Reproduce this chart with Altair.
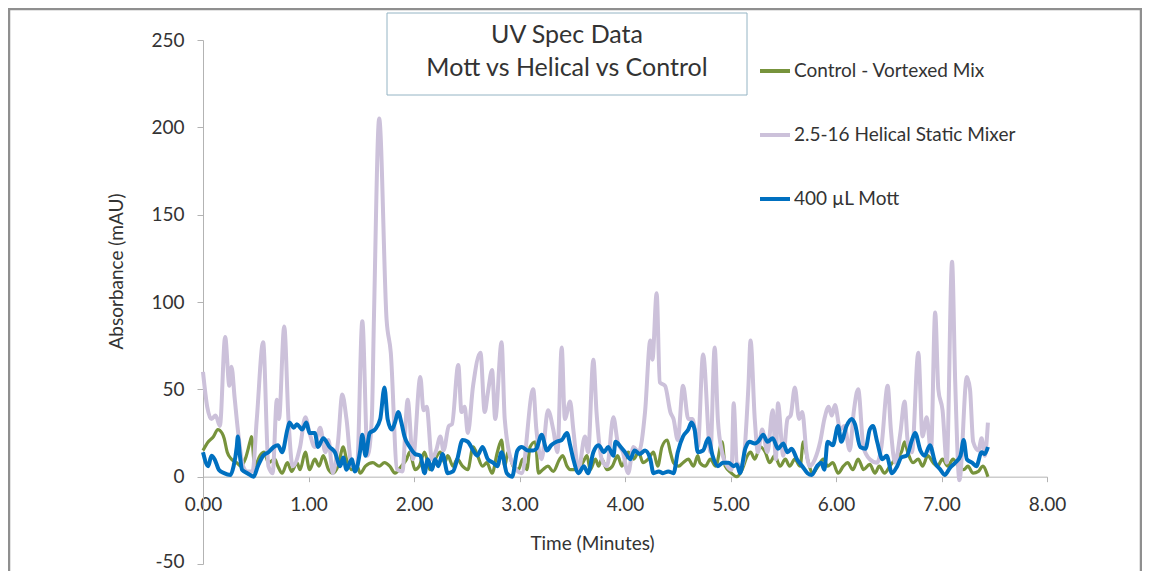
import altair as alt
import pandas as pd

# ---------------- data ----------------
series_names = ["Control - Vortexed Mix", "2.5-16 Helical Static Mixer", "400 µL Mott"]
series_colors = ["#77933c", "#ccc1da", "#0070c0"]
title_lines = ["UV Spec Data", "Mott vs Helical vs Control"]
x_ticks = [0, 1, 2, 3, 4, 5, 6, 7, 8]
y_ticks = [-50, 0, 50, 100, 150, 200, 250]

control_t = [0.00, 0.05, 0.10, 0.14, 0.18, 0.20, 0.23, 0.27, 0.32, 0.36, 0.40, 0.45, 0.46, 0.49,
             0.54, 0.58, 0.62, 0.68, 0.71, 0.75, 0.80, 0.84, 0.89, 0.92, 0.97, 1.01, 1.06, 1.10,
             1.14, 1.19, 1.23, 1.28, 1.33, 1.36, 1.41, 1.46, 1.49, 1.54, 1.61, 1.67, 1.72, 1.77,
             1.82, 1.88, 1.93, 1.96, 2.01, 2.05, 2.10, 2.15, 2.20, 2.25, 2.29, 2.32, 2.37, 2.41,
             2.46, 2.51, 2.56, 2.59, 2.65, 2.69, 2.74, 2.79, 2.83, 2.86, 2.89, 2.94, 2.99, 3.03,
             3.07, 3.10, 3.15, 3.18, 3.22, 3.27, 3.32, 3.38, 3.41, 3.45, 3.48, 3.54, 3.60, 3.64,
             3.67, 3.72, 3.75, 3.78, 3.83, 3.88, 3.93, 3.97, 4.03, 4.08, 4.13, 4.17, 4.22, 4.27,
             4.31, 4.35, 4.40, 4.43, 4.46, 4.51, 4.55, 4.60, 4.65, 4.69, 4.71, 4.76, 4.81, 4.86,
             4.92, 4.95, 5.01, 5.06, 5.11, 5.16, 5.19, 5.23, 5.28, 5.33, 5.37, 5.42, 5.47, 5.52,
             5.56, 5.61, 5.66, 5.69, 5.73, 5.78, 5.83, 5.88, 5.92, 5.97, 6.02, 6.07, 6.11, 6.16,
             6.21, 6.23, 6.26, 6.32, 6.37, 6.41, 6.46, 6.51, 6.56, 6.62, 6.65, 6.68, 6.73, 6.78,
             6.82, 6.87, 6.92, 6.96, 7.01, 7.06, 7.11, 7.16, 7.21, 7.25, 7.30, 7.35, 7.39, 7.44]
control_v = [15, 20, 23, 27, 25, 22, 14, 10, 8, 6, 10, 21, 23, 6,
             12, 14, 8, 10, 6, 2, 8, 3, 8, 4, 14, 4, 10, 6,
             12, 4, 2, 6, 17, 10, 4, 6, 2, 6, 8, 6, 8, 6,
             2, 6, 10, 14, 4, 6, 14, 4, 10, 14, 8, 12, 6, 10,
             6, 4, 17, 14, 6, 8, 2, 14, 21, 6, 14, 6, 4, 10,
             4, 17, 20, 2, 4, 6, 3, 10, 12, 6, 4, 4, 8, 12,
             4, 10, 6, 10, 4, 6, 12, 6, 14, 10, 14, 8, 10, 14,
             6, 17, 21, 14, 8, 6, 8, 10, 6, 12, 8, 6, 10, 6,
             20, 6, 2, 0, 4, 12, 14, 10, 17, 14, 8, 12, 6, 10,
             6, 10, 6, 20, 10, 2, 6, 10, 6, 8, 2, 6, 8, 4,
             10, 8, 4, 7, 2, 6, 2, 6, 10, 14, 20, 14, 8, 10,
             6, 12, 8, 6, 10, 6, 10, 6, 4, 6, 2, 3, 6, 0]

helical_t = [0.00, 0.04, 0.08, 0.12, 0.16, 0.21, 0.25, 0.27, 0.30, 0.33, 0.38, 0.42, 0.47, 0.51,
             0.57, 0.62, 0.66, 0.70, 0.72, 0.77, 0.81, 0.85, 0.92, 0.97, 1.01, 1.06, 1.11, 1.16,
             1.19, 1.23, 1.28, 1.32, 1.36, 1.41, 1.46, 1.51, 1.56, 1.60, 1.62, 1.67, 1.74, 1.78,
             1.84, 1.89, 1.94, 1.99, 2.06, 2.09, 2.12, 2.17, 2.21, 2.25, 2.28, 2.33, 2.36, 2.42,
             2.45, 2.48, 2.51, 2.56, 2.63, 2.67, 2.70, 2.74, 2.77, 2.83, 2.86, 2.93, 3.02, 3.13,
             3.16, 3.21, 3.27, 3.32, 3.36, 3.40, 3.43, 3.48, 3.51, 3.56, 3.62, 3.65, 3.70, 3.73,
             3.78, 3.83, 3.89, 3.93, 3.98, 4.03, 4.08, 4.13, 4.19, 4.24, 4.26, 4.30, 4.33, 4.38,
             4.43, 4.46, 4.50, 4.55, 4.60, 4.64, 4.69, 4.74, 4.81, 4.85, 4.88, 4.92, 4.97, 5.01,
             5.03, 5.06, 5.11, 5.17, 5.19, 5.23, 5.26, 5.30, 5.35, 5.40, 5.43, 5.45, 5.50, 5.54,
             5.57, 5.61, 5.65, 5.68, 5.72, 5.75, 5.80, 5.85, 5.89, 5.93, 5.96, 5.99, 6.04, 6.08,
             6.13, 6.17, 6.21, 6.26, 6.32, 6.39, 6.43, 6.49, 6.52, 6.56, 6.61, 6.65, 6.68, 6.72,
             6.78, 6.82, 6.86, 6.90, 6.94, 6.97, 7.01, 7.05, 7.10, 7.13, 7.17, 7.24, 7.27, 7.30,
             7.35, 7.38, 7.41, 7.44]
helical_v = [60, 40, 33, 35, 29, 80, 52, 63, 45, 27, 6, 3, 3, 33,
             77, 6, 2, 44, 33, 86, 33, 6, 17, 34, 25, 17, 28, 14,
             21, 2, 20, 47, 33, 6, 6, 89, 12, 33, 90, 205, 90, 71,
             4, 3, 44, 10, 57, 38, 40, 10, 15, 23, 15, 29, 30, 64,
             37, 40, 25, 52, 71, 37, 48, 61, 33, 77, 33, 8, 2, 50,
             27, 10, 38, 27, 14, 74, 33, 43, 27, 4, 23, 14, 67, 37,
             10, 6, 34, 20, 14, 2, 17, 14, 37, 78, 67, 105, 54, 52,
             37, 33, 21, 52, 33, 33, 17, 70, 14, 74, 33, 14, 6, 4,
             42, 8, 6, 52, 78, 33, 14, 27, 14, 38, 10, 42, 12, 33,
             35, 51, 33, 37, 14, 6, 10, 20, 33, 40, 35, 41, 27, 29,
             15, 38, 50, 17, 10, 8, 17, 52, 27, 8, 25, 43, 20, 14,
             71, 23, 34, 14, 94, 50, 38, 8, 123, 54, -2, 57, 50, 20,
             15, 22, 12, 31]

mott_t = [0.00, 0.05, 0.08, 0.11, 0.15, 0.20, 0.26, 0.29, 0.32, 0.33, 0.35, 0.37, 0.42, 0.48,
          0.52, 0.57, 0.62, 0.67, 0.71, 0.75, 0.80, 0.82, 0.86, 0.89, 0.94, 0.98, 1.01, 1.06,
          1.09, 1.14, 1.20, 1.25, 1.30, 1.33, 1.36, 1.41, 1.44, 1.49, 1.51, 1.54, 1.58, 1.63,
          1.68, 1.72, 1.75, 1.79, 1.82, 1.85, 1.88, 1.91, 1.96, 2.01, 2.06, 2.10, 2.13, 2.17,
          2.20, 2.23, 2.27, 2.32, 2.37, 2.41, 2.46, 2.51, 2.56, 2.60, 2.65, 2.70, 2.75, 2.79,
          2.83, 2.88, 2.93, 2.98, 3.02, 3.08, 3.13, 3.16, 3.21, 3.26, 3.30, 3.35, 3.40, 3.45,
          3.48, 3.51, 3.56, 3.61, 3.65, 3.70, 3.75, 3.80, 3.84, 3.89, 3.91, 3.96, 4.00, 4.05,
          4.09, 4.14, 4.19, 4.24, 4.27, 4.32, 4.36, 4.41, 4.46, 4.50, 4.55, 4.60, 4.63, 4.66,
          4.69, 4.74, 4.79, 4.83, 4.88, 4.93, 4.98, 5.03, 5.06, 5.09, 5.14, 5.18, 5.23, 5.26,
          5.31, 5.35, 5.40, 5.45, 5.50, 5.54, 5.58, 5.63, 5.68, 5.73, 5.77, 5.82, 5.86, 5.89,
          5.92, 5.97, 6.02, 6.05, 6.10, 6.15, 6.18, 6.23, 6.28, 6.32, 6.35, 6.39, 6.44, 6.48,
          6.53, 6.58, 6.62, 6.67, 6.72, 6.75, 6.80, 6.84, 6.89, 6.94, 6.99, 7.03, 7.08, 7.13,
          7.18, 7.21, 7.24, 7.29, 7.33, 7.38, 7.41, 7.44]
mott_v = [14, 6, 12, 10, 4, 2, 1, 6, 17, 23, 12, 4, 2, 0,
          6, 12, 14, 17, 18, 14, 27, 31, 28, 30, 27, 31, 25, 25,
          17, 22, 17, 14, 6, 11, 4, 10, 3, 15, 24, 12, 25, 27,
          33, 51, 33, 27, 31, 37, 31, 23, 17, 13, 12, 2, 10, 4,
          10, 6, 13, 2, 3, 10, 21, 20, 15, 12, 17, 10, 8, 6,
          14, 2, 0, 15, 17, 15, 15, 16, 24, 15, 18, 20, 21, 25,
          18, 10, 2, 6, 2, 14, 18, 14, 17, 12, 20, 17, 14, 10,
          15, 13, 15, 10, 2, 3, 2, 3, 2, 14, 23, 27, 31, 27,
          14, 15, 22, 12, 6, 8, 8, 6, 7, 2, 16, 20, 19, 20,
          24, 20, 22, 16, 19, 14, 16, 10, 6, 2, 1, 6, 8, 4,
          20, 18, 29, 20, 29, 33, 30, 17, 16, 27, 29, 20, 10, 12,
          2, 6, 11, 12, 21, 25, 15, 12, 18, 8, 4, 1, 5, 8,
          12, 21, 10, 8, 6, 14, 13, 17]

df = pd.concat([
    pd.DataFrame({"t": control_t, "v": control_v, "series": series_names[0]}),
    pd.DataFrame({"t": helical_t, "v": helical_v, "series": series_names[1]}),
    pd.DataFrame({"t": mott_t, "v": mott_v, "series": series_names[2]}),
], ignore_index=True)

# ---------------- layout ----------------
W, H = 844, 524
FONT = "Lato"
TXT = "#333333"
AX = "#b3b3b3"
FS = 19
zero_offset = -(H - H * 250 / 300)

x_enc = alt.X("t:Q", scale=alt.Scale(domain=[0, 8], nice=False, zero=False),
              axis=alt.Axis(values=x_ticks, format=".2f", title="Time (Minutes)",
                            offset=zero_offset, grid=False, domainColor=AX, tickColor=AX,
                            tickSize=5, labelPadding=14, labelFontSize=FS, titleFontSize=FS,
                            labelFont=FONT, titleFont=FONT, labelColor=TXT, titleColor=TXT,
                            labelFlush=False, labelOverlap=False,
                            titleFontWeight="normal", titlePadding=20,
                            titleX=389, titleAlign="center"))
y_enc = alt.Y("v:Q", scale=alt.Scale(domain=[-50, 250], nice=False, zero=False),
              axis=alt.Axis(values=y_ticks, title="Absorbance (mAU)", grid=False,
                            labelExpr="datum.value + ''",
                            labelOffset={"condition": {"test": "datum.value === -50", "value": -3},
                                         "value": 0},
                            domainColor=AX, tickColor=AX, tickSize=6, labelPadding=13,
                            labelFontSize=FS, titleFontSize=FS, labelFont=FONT, titleFont=FONT,
                            labelColor=TXT, titleColor=TXT, titleFontWeight="normal",
                            labelFlush=False, labelOverlap=False,
                            titlePadding=24, titleY=231, titleAlign="center"))
color_enc = alt.Color("series:N",
                      scale=alt.Scale(domain=series_names, range=series_colors),
                      legend=alt.Legend(title=None, orient="none", legendX=555, legendY=14,
                                        symbolType="stroke", symbolSize=900,
                                        symbolStrokeWidth=4, labelFontSize=FS,
                                        labelFont=FONT, labelColor=TXT, labelOffset=2,
                                        rowPadding=37, labelLimit=400))

base = alt.Chart(df)
widths = [3.2, 4, 4]
line_layers = [
    base.transform_filter(alt.datum.series == name)
        .mark_line(strokeWidth=w, interpolate="monotone")
        .encode(x=x_enc, y=y_enc, color=color_enc)
    for name, w in zip(series_names, widths)
]

one = pd.DataFrame({"a": [0]})
frame = alt.Chart(one).mark_rect(fillOpacity=0, stroke="#8f8f8f", strokeWidth=2.5).encode(
    x=alt.value(-194), x2=alt.value(938), y=alt.value(-31), y2=alt.value(620))
title_box = alt.Chart(one).mark_rect(fill="white", stroke="#94b4c4", strokeWidth=1).encode(
    x=alt.value(184), x2=alt.value(544), y=alt.value(-27), y2=alt.value(55))
title_text = alt.Chart(one).mark_text(text=title_lines, font=FONT, fontSize=25, color=TXT,
                                      align="center", baseline="middle", lineHeight=33).encode(
    x=alt.value(364), y=alt.value(-5))

chart = alt.layer(frame, *line_layers, title_box, title_text).properties(
    width=W, height=H,
    background="white",
    padding={"left": 195, "top": 32, "right": 95, "bottom": 7},
    autosize=alt.AutoSizeParams(type="none"),
).configure_view(strokeWidth=0, stroke=None)

chart.save("out.html", embed_options={"renderer": "svg", "actions": False})
